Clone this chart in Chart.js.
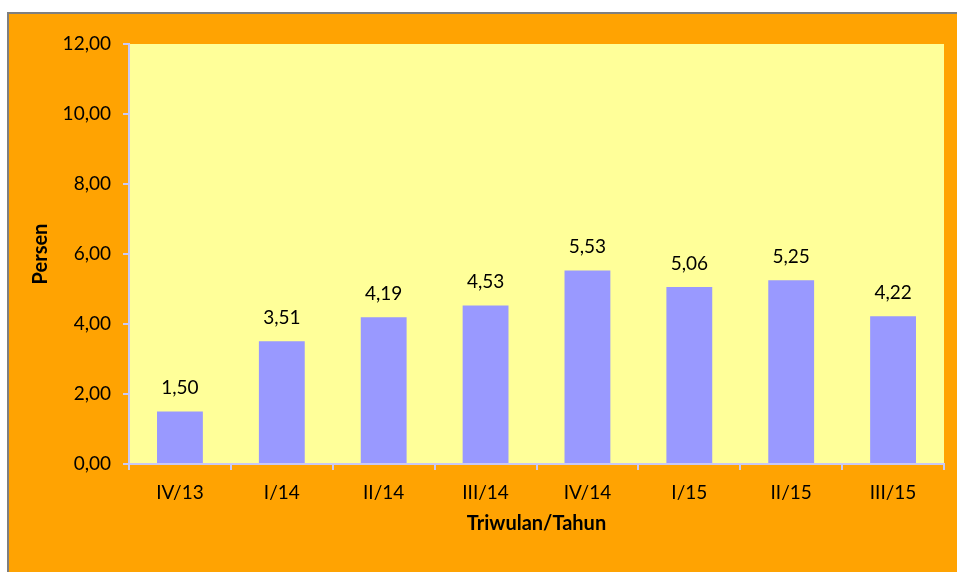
<!DOCTYPE html>
<html lang="id">
<head>
    <meta charset="UTF-8">
    <title>Persen per Triwulan</title>
    <script src="https://cdn.jsdelivr.net/npm/chart.js"></script>
    <style>
        body {
            margin: 0;
            background: #ffffff;
            overflow: hidden;
        }

        #frame {
            position: absolute;
            left: 7px;
            top: 12px;
            width: 960px;
            height: 570px;
            border: 2px solid #7f7f7f;
            background: #ffa302;
        }

        canvas {
            display: block;
        }
    </style>
</head>
<body>
    <div id="frame">
        <canvas id="chart" width="948" height="558"></canvas>
    </div>

    <script>
        const labels = ['IV/13', 'I/14', 'II/14', 'III/14', 'IV/14', 'I/15', 'II/15', 'III/15'];
        const values = [1.50, 3.51, 4.19, 4.53, 5.53, 5.06, 5.25, 4.22];

        const fontFam = 'Lato, "Open Sans", sans-serif';
        const axisColor = '#c9c9f5';

        function fmt(v) {
            return v.toFixed(2).replace('.', ',');
        }

        // yellow plot area
        const plotBg = {
            id: 'plotBg',
            beforeDraw(chart) {
                const { ctx, chartArea: a } = chart;
                ctx.save();
                ctx.fillStyle = '#ffff99';
                ctx.fillRect(a.left, a.top, a.right - a.left, a.bottom - a.top);
                ctx.restore();
            }
        };

        // numbers over the bars
        const barLabels = {
            id: 'barLabels',
            afterDatasetsDraw(chart) {
                const ctx = chart.ctx;
                const meta = chart.getDatasetMeta(0);
                ctx.save();
                ctx.font = '19px ' + fontFam;
                ctx.fillStyle = '#000000';
                ctx.textAlign = 'center';
                ctx.textBaseline = 'bottom';
                meta.data.forEach((bar, i) => {
                    ctx.fillText(fmt(values[i]), bar.x, bar.y - 14);
                });
                ctx.restore();
            }
        };

        new Chart(document.getElementById('chart'), {
            type: 'bar',
            data: {
                labels: labels,
                datasets: [{
                    data: values,
                    backgroundColor: '#9999ff',
                    borderWidth: 0,
                    categoryPercentage: 1,
                    barPercentage: 0.45
                }]
            },
            options: {
                responsive: false,
                animation: false,
                layout: {
                    padding: { left: 0, right: 13, top: 30, bottom: 33 }
                },
                plugins: {
                    legend: { display: false },
                    tooltip: { enabled: false }
                },
                scales: {
                    x: {
                        afterFit: s => { s.height = 75; },
                        grid: {
                            display: true,
                            drawOnChartArea: false,
                            drawTicks: true,
                            tickLength: 6,
                            color: axisColor,
                            lineWidth: 2,
                            offset: true
                        },
                        border: { display: true, color: axisColor, width: 2 },
                        ticks: {
                            color: '#000000',
                            font: { family: fontFam, size: 19 },
                            padding: 11,
                            maxRotation: 0
                        },
                        title: {
                            display: true,
                            text: 'Triwulan/Tahun',
                            color: '#000000',
                            font: { family: fontFam, size: 20, weight: 'bold' },
                            padding: { top: 0, bottom: 3 }
                        }
                    },
                    y: {
                        min: 0,
                        max: 12,
                        afterFit: s => { s.width = 120; },
                        grid: {
                            display: true,
                            drawOnChartArea: false,
                            drawTicks: true,
                            tickLength: 6,
                            color: axisColor,
                            lineWidth: 2
                        },
                        border: { display: true, color: axisColor, width: 2 },
                        ticks: {
                            stepSize: 2,
                            color: '#000000',
                            font: { family: fontFam, size: 19 },
                            padding: 12,
                            callback: v => fmt(v)
                        },
                        title: {
                            display: true,
                            text: 'Persen',
                            color: '#000000',
                            font: { family: fontFam, size: 20, weight: 'bold' },
                            padding: { top: 20, bottom: 0 }
                        }
                    }
                }
            },
            plugins: [plotBg, barLabels]
        });
    </script>
</body>
</html>
